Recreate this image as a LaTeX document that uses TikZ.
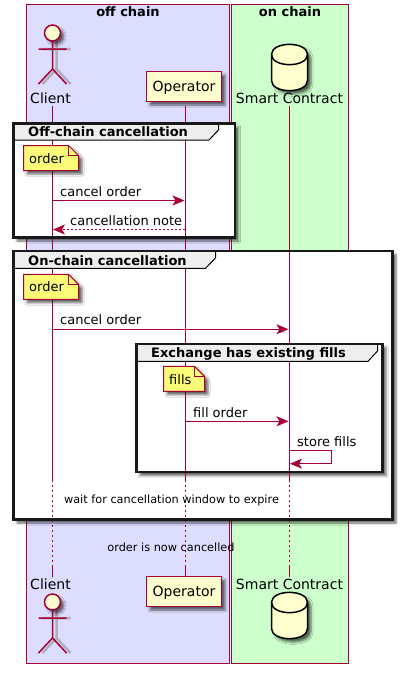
\documentclass[tikz,border=0pt]{standalone}
\usepackage{xcolor}
\usepackage{fontspec}
\setmainfont{DejaVu Sans}
\usepackage{tikz}
\usetikzlibrary{arrows.meta,positioning,calc,shadows,shadows.blur}
\definecolor{crimson2}{RGB}{168,0,54}
\definecolor{lightlav}{RGB}{221,221,255}
\definecolor{lightmint}{RGB}{204,255,204}
\definecolor{cream}{RGB}{254,254,206}
\definecolor{noteyellow}{RGB}{251,251,119}
\definecolor{tabgray}{RGB}{238,238,238}
\tikzset{
  softshadow/.style={blur shadow={shadow xshift=3.5pt, shadow yshift=-3.5pt,
    shadow blur radius=2.2pt, shadow opacity=60}},
  chainbox/.style={draw=crimson2, line width=1pt, inner sep=0pt, outer sep=0pt, anchor=north west},
  boxtitle/.style={anchor=base, inner sep=0pt, font=\fontsize{13}{15}\bfseries\selectfont},
  partlabel/.style={anchor=base, inner sep=0pt, font=\fontsize{14}{16}\selectfont},
  partbox/.style={draw=crimson2, fill=cream, line width=1.5pt, inner sep=0pt, outer sep=0pt, softshadow,
    minimum width=75pt, minimum height=30pt, anchor=north west},
  groupbox/.style={fill=white, inner sep=0pt, outer sep=0pt, anchor=north west, softshadow},
  groupline/.style={draw=black!90, line width=2.2pt},
  grouptab/.style={draw=black, fill=tabgray, line width=1pt},
  grouptitle/.style={anchor=base west, inner sep=0pt, font=\fontsize{13}{15}\bfseries\selectfont},
  lifeline/.style={draw=crimson2, line width=1pt},
  dottedline/.style={lifeline, dash pattern=on 1.5pt off 3.5pt},
  notebox/.style={draw=crimson2, fill=noteyellow, line width=1pt, softshadow},
  msglabel/.style={anchor=base west, inner sep=0pt, font=\fontsize{13}{15}\selectfont},
  delaylabel/.style={anchor=base, inner sep=0pt, font=\fontsize{11.3}{13}\selectfont},
  flow/.style={-{Stealth[length=12pt, width=10pt, inset=3pt]}, draw=crimson2, line width=1pt},
  dashedflow/.style={flow, dash pattern=on 2pt off 2pt},
  actorfig/.pic={
    \draw[gray, opacity=.5, line width=2.5pt] (4,12) -- (4,40) (-10,20) -- (18,20) (-10,55) -- (4,40) -- (18,55);
    \draw[draw=crimson2, fill=cream, line width=1.5pt, softshadow] (0,4) circle (8);
    \draw[draw=crimson2, line width=1.5pt] (0,12) -- (0,40) (-14,20) -- (14,20) (-14,55) -- (0,40) -- (14,55);
  },
  dbfig/.pic={
    \draw[draw=black, fill=cream, line width=1.5pt, softshadow] (-18,10)
      .. controls (-18,-3.5) and (18,-3.5) .. (18,10) -- (18,36)
      .. controls (18,49.5) and (-18,49.5) .. (-18,36) -- cycle;
    \draw[draw=black, line width=1.5pt] (-18,10) .. controls (-18,23.5) and (18,23.5) .. (18,10);
  }
}

\begin{document}
\begin{tikzpicture}[x=1pt, y=-1pt]
\useasboundingbox (0,0) rectangle (402,673);

% chain boxes
\node[chainbox, fill=lightlav, minimum width=203pt, minimum height=658.5pt] (offchain) at (26.5,4.5) {};
\node[chainbox, fill=lightmint, minimum width=117pt, minimum height=658.5pt] (onchain) at (231.5,4.5) {};
\node[boxtitle] (offtitle) at (128,16.3) {off chain};
\node[boxtitle] (ontitle) at (290,16.3) {on chain};

% participants
\pic at (52.5,29) {actorfig};
\node[partlabel] (client) at (50.5,103.3) {Client};
\node[partbox] (oper) at (146.5,71.5) {};
\node[partlabel] (opertext) at (184,91.3) {Operator};
\pic at (289.5,44.5) {dbfig};
\node[partlabel] (smart) at (289.5,103.3) {Smart Contract};

\pic at (52.5,598) {actorfig};
\node[partlabel] (clientb) at (50.5,589.3) {Client};
\node[partbox] (operb) at (146.5,576.5) {};
\node[partlabel] (operbtext) at (184,596) {Operator};
\pic at (289.5,592.5) {dbfig};
\node[partlabel] (smartb) at (289.5,589.3) {Smart Contract};

% group fills
\node[groupbox, minimum width=221.5pt, minimum height=114pt] (offgroup) at (13.5,123.5) {};
\node[groupbox, minimum width=379pt, minimum height=268.5pt] (ongroup) at (13.5,251) {};
\node[groupbox, minimum width=246pt, minimum height=128.5pt] (fillgroup) at (136.5,343.7) {};

% lifelines
\coordinate (clienttop) at (52.5,106);
\coordinate (clientdot) at (52.5,480);
\coordinate (clientend) at (52.5,566);
\coordinate (clientlow) at (52.5,577);
\coordinate (opertop) at (185.5,106);
\coordinate (operdot) at (185.5,480);
\coordinate (operend) at (185.5,566);
\coordinate (operlow) at (185.5,576.5);
\coordinate (smarttop) at (289.5,106);
\coordinate (smartdot) at (289.5,480);
\coordinate (smartend) at (289.5,566);
\coordinate (smartlow) at (289.5,577);
\draw[lifeline] (clienttop) -- (clientdot);
\draw[dottedline] (clientdot) -- (clientend);
\draw[lifeline] (clientend) -- (clientlow);
\draw[lifeline] (opertop) -- (operdot);
\draw[dottedline] (operdot) -- (operend);
\draw[lifeline] (operend) -- (operlow);
\draw[lifeline] (smarttop) -- (smartdot);
\draw[dottedline] (smartdot) -- (smartend);
\draw[lifeline] (smartend) -- (smartlow);

% group frames
\draw[grouptab] (offgroup.north west) -- (218.5,123.5) -- (218.5,130) -- (209,140) -- (13.5,140) -- cycle;
\draw[groupline] (offgroup.north west) rectangle (offgroup.south east);
\node[grouptitle] (offname) at (28,136.3) {Off-chain cancellation};
\draw[grouptab] (ongroup.north west) -- (215.5,251) -- (215.5,258) -- (205.5,268.3) -- (13.5,268.3) -- cycle;
\draw[groupline] (ongroup.north west) rectangle (ongroup.south east);
\node[grouptitle] (onname) at (28,265.3) {On-chain cancellation};
\draw[grouptab] (fillgroup.north west) -- (377.5,343.7) -- (377.5,351) -- (368,361.3) -- (136.5,361.3) -- cycle;
\draw[groupline] (fillgroup.north west) rectangle (fillgroup.south east);
\node[grouptitle] (fillname) at (151,357.7) {Exchange has existing fills};

% notes
\draw[notebox] (23.5,145.5) -- (68.5,145.5) -- (78.5,155.5) -- (78.5,170.5) -- (23.5,170.5) -- cycle;
\draw[draw=crimson2] (68.5,145.5) -- (68.5,155.5) -- (78.5,155.5);
\node[msglabel] (note1) at (29,163.3) {order};
\draw[notebox] (23.5,274.3) -- (68.5,274.3) -- (78.5,284.3) -- (78.5,299.3) -- (23.5,299.3) -- cycle;
\draw[draw=crimson2] (68.5,274.3) -- (68.5,284.3) -- (78.5,284.3);
\node[msglabel] (note2) at (29,291.3) {order};
\draw[notebox] (163.5,366.3) -- (194.5,366.3) -- (204.5,376.3) -- (204.5,391.3) -- (163.5,391.3) -- cycle;
\draw[draw=crimson2] (194.5,366.3) -- (194.5,376.3) -- (204.5,376.3);
\node[msglabel] (note3) at (169,384) {fills};

% messages
\coordinate (m1a) at (52.5,200.5);
\coordinate (m1b) at (184.5,200.5);
\coordinate (m2a) at (184.5,229.5);
\coordinate (m2b) at (53,229.5);
\coordinate (m3a) at (52.5,329.3);
\coordinate (m3b) at (288.5,329.3);
\coordinate (m4a) at (185.5,421.3);
\coordinate (m4b) at (288.5,421.3);
\coordinate (m5a) at (289.5,450.7);
\coordinate (m5b) at (331.5,450.7);
\coordinate (m5c) at (331.5,463.7);
\coordinate (m5d) at (290,463.7);
\draw[flow] (m1a)--(m1b);
\node[msglabel] (cancel1) at (60,196.7) {cancel order};
\draw[dashedflow] (m2a)--(m2b);
\node[msglabel] (cnote) at (70,225.7) {cancellation note};
\draw[flow] (m3a)--(m3b);
\node[msglabel] (cancel2) at (60,324.3) {cancel order};
\draw[flow] (m4a)--(m4b);
\node[msglabel] (fillord) at (193,417.3) {fill order};
\draw[flow] (m5a)--(m5b)--(m5c)--(m5d);
\node[msglabel] (store) at (297,446.3) {store fills};

% delays
\node[delaylabel] (waitnote) at (171.5,503) {wait for cancellation window to expire};
\node[delaylabel] (donenote) at (171,551) {order is now cancelled};
\end{tikzpicture}
\end{document}
